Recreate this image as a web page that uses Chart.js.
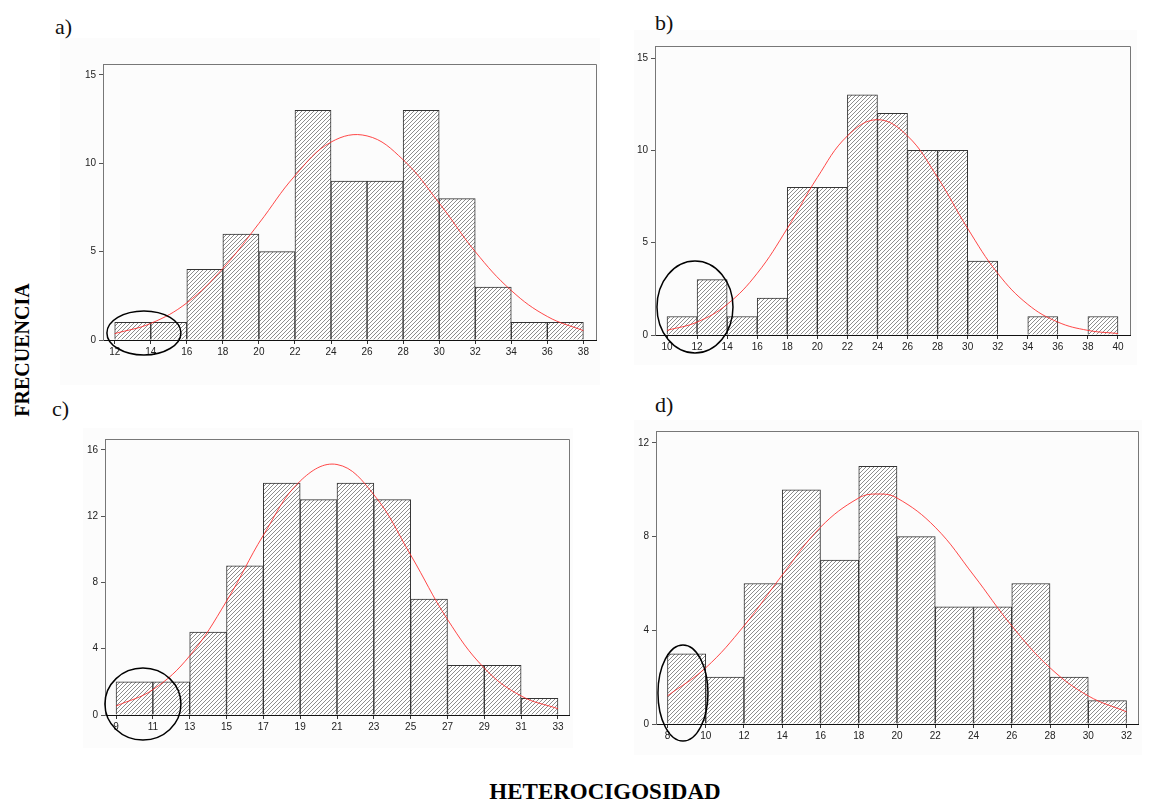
<!DOCTYPE html>
<html>
<head>
<meta charset="utf-8">
<script src="https://cdn.jsdelivr.net/npm/chart.js@4.4.0/dist/chart.umd.min.js"></script>
<style>
  body { margin: 0; background: #fff; width: 1175px; height: 800px; position: relative; overflow: hidden; font-family: "Liberation Serif", "Times New Roman", serif; }
  canvas { position: absolute; }
  .bg { position: absolute; background: #fcfcfc; }
  .lbl { position: absolute; font-size: 22px; color: #111; line-height: 1; }
  #ylab { position: absolute; left: 22px; top: 350px; transform: translate(-50%, -50%) rotate(-90deg); font-weight: bold; font-size: 20px; white-space: nowrap; }
  #xlab { position: absolute; left: 605px; top: 792px; transform: translate(-50%, -50%); font-weight: bold; font-size: 23px; white-space: nowrap; }
</style>
</head>
<body>
<div class="bg" style="left:60px;top:38px;width:540px;height:347px"></div>
<div class="bg" style="left:634px;top:30px;width:503px;height:335px"></div>
<div class="bg" style="left:83px;top:428px;width:490px;height:320px"></div>
<div class="bg" style="left:634px;top:420px;width:508px;height:335px"></div>

<div class="lbl" style="left:55px;top:16px">a)</div>
<div class="lbl" style="left:655px;top:12px">b)</div>
<div class="lbl" style="left:52px;top:398px">c)</div>
<div class="lbl" style="left:655px;top:394px">d)</div>
<div id="ylab">FRECUENCIA</div>
<div id="xlab">HETEROCIGOSIDAD</div>

<canvas id="ca" width="543" height="316" style="left:63px;top:54px"></canvas>
<canvas id="cb" width="525" height="329" style="left:615px;top:36px"></canvas>
<canvas id="cc" width="514" height="316" style="left:65px;top:429px"></canvas>
<canvas id="cd" width="532" height="333" style="left:616px;top:421px"></canvas>

<script>
// a)
var aCenters = [13, 15, 17, 19, 21, 23, 25, 27, 29, 31, 33, 35, 37];
var aCounts = [1, 1, 4, 6, 5, 13, 9, 9, 13, 8, 3, 1, 1];
var aCurveX = [12, 14, 16, 18, 20, 22, 24, 26, 28, 30, 32, 34, 36, 38];
var aCurveY = [0.36, 0.94, 2.1, 4.05, 6.6, 9.3, 11.2, 11.55, 10.2, 7.75, 5.0, 2.8, 1.33, 0.53];
var aXTicks = [12, 14, 16, 18, 20, 22, 24, 26, 28, 30, 32, 34, 36, 38];
var aYTicks = [0, 5, 10, 15];

// b)
var bCenters = [11, 13, 15, 17, 19, 21, 23, 25, 27, 29, 31, 33, 35, 37, 39];
var bCounts = [1, 3, 1, 2, 8, 8, 13, 12, 10, 10, 4, null, 1, null, 1];
var bCurveX = [10, 12, 14, 16, 18, 20, 22, 24, 26, 28, 30, 32, 34, 36, 38, 40];
var bCurveY = [0.25, 0.7, 1.66, 3.34, 5.77, 8.53, 10.78, 11.66, 10.78, 8.53, 5.77, 3.34, 1.66, 0.7, 0.25, 0.08];
var bXTicks = [10, 12, 14, 16, 18, 20, 22, 24, 26, 28, 30, 32, 34, 36, 38, 40];
var bYTicks = [0, 5, 10, 15];

// c)
var cCenters = [10, 12, 14, 16, 18, 20, 22, 24, 26, 28, 30, 32];
var cCounts = [2, 2, 5, 9, 14, 13, 14, 13, 7, 3, 3, 1];
var cCurveX = [9, 11, 13, 15, 17, 19, 21, 23, 25, 27, 29, 31, 33];
var cCurveY = [0.54, 1.53, 3.57, 6.87, 10.85, 14.12, 15.12, 13.3, 9.66, 5.77, 2.83, 1.15, 0.38];
var cXTicks = [9, 11, 13, 15, 17, 19, 21, 23, 25, 27, 29, 31, 33];
var cYTicks = [0, 4, 8, 12, 16];

// d)
var dCenters = [9, 11, 13, 15, 17, 19, 21, 23, 25, 27, 29, 31];
var dCounts = [3, 2, 6, 10, 7, 11, 8, 5, 5, 6, 2, 1];
var dCurveX = [8, 10, 12, 14, 16, 18, 19, 20, 22, 24, 26, 28, 30, 32];
var dCurveY = [1.2, 2.4, 4.19, 6.36, 8.4, 9.65, 9.82, 9.65, 8.4, 6.36, 4.19, 2.4, 1.2, 0.52];
var dXTicks = [8, 10, 12, 14, 16, 18, 20, 22, 24, 26, 28, 30, 32];
var dYTicks = [0, 4, 8, 12];

function hatch() {
  var c = document.createElement("canvas");
  c.width = 4; c.height = 4;
  var g = c.getContext("2d");
  g.fillStyle = "#fff";
  g.fillRect(0, 0, 4, 4);
  g.strokeStyle = "#808080";
  g.lineWidth = 0.9;
  g.beginPath();
  g.moveTo(0, 4); g.lineTo(4, 0);
  g.moveTo(-1, 1); g.lineTo(1, -1);
  g.moveTo(3, 5); g.lineTo(5, 3);
  g.stroke();
  return g.createPattern(c, "repeat");
}
var pat = hatch();

// top and right edges of the frame
var framePlugin = {
  id: "frame",
  afterDatasetsDraw: function (chart) {
    var a = chart.chartArea, ctx = chart.ctx;
    ctx.save();
    ctx.strokeStyle = "#777";
    ctx.lineWidth = 1;
    ctx.beginPath();
    ctx.moveTo(a.left, a.top + 0.5);
    ctx.lineTo(a.right + 0.5, a.top + 0.5);
    ctx.lineTo(a.right + 0.5, a.bottom);
    ctx.stroke();
    ctx.restore();
  }
};

// hand drawn ring around the first bins
var ringPlugin = {
  id: "ring",
  afterDraw: function (chart, args, o) {
    if (!o || o.cx === undefined) return;
    var ctx = chart.ctx;
    var x = chart.scales.x.getPixelForValue(o.cx);
    var y = chart.scales.y.getPixelForValue(o.cy);
    ctx.save();
    ctx.strokeStyle = "#000";
    ctx.lineWidth = 1.5;
    ctx.beginPath();
    ctx.ellipse(x, y, o.rx, o.ry, 0, 0, Math.PI * 2);
    ctx.stroke();
    ctx.restore();
  }
};

function makeHist(id, centers, counts, curveX, curveY, xTicks, yTicks, xmin, xmax, ymax, ring) {
  var bars = centers.map(function (c, i) { return { x: c, y: counts[i] }; });
  var curve = curveX.map(function (x, i) { return { x: x, y: curveY[i] }; });
  return new Chart(document.getElementById(id), {
    type: "bar",
    data: {
      datasets: [
        {
          type: "line",
          data: curve,
          borderColor: "rgba(255,40,40,0.85)",
          borderWidth: 1,
          pointRadius: 0,
          tension: 0.4,
          fill: false,
          order: 0
        },
        {
          type: "bar",
          data: bars,
          backgroundColor: pat,
          borderColor: "#333",
          borderWidth: 1,
          barPercentage: 1,
          categoryPercentage: 1,
          order: 1
        }
      ]
    },
    options: {
      responsive: false,
      animation: false,
      devicePixelRatio: 1,
      layout: { padding: { top: 10, right: 10, left: 0, bottom: 0 } },
      plugins: { legend: { display: false }, tooltip: { enabled: false }, ring: ring },
      scales: {
        x: {
          type: "linear",
          min: xmin,
          max: xmax,
          offset: false,
          grid: { drawOnChartArea: false, offset: false, tickLength: 4, color: "#333" },
          border: { color: "#111", width: 1 },
          ticks: { color: "#222", font: { family: "Liberation Sans", size: 10 }, padding: 2, maxRotation: 0, autoSkip: false },
          afterBuildTicks: function (s) { s.ticks = xTicks.map(function (v) { return { value: v }; }); },
          afterFit: function (s) { s.height = 30; }
        },
        y: {
          min: 0,
          max: ymax,
          grid: { drawOnChartArea: false, tickLength: 4, color: "#555" },
          border: { color: "#777", width: 1 },
          ticks: { color: "#222", font: { family: "Liberation Sans", size: 10 }, padding: 3 },
          afterBuildTicks: function (s) { s.ticks = yTicks.map(function (v) { return { value: v }; }); },
          afterFit: function (s) { s.width = 40; }
        }
      }
    },
    plugins: [framePlugin, ringPlugin]
  });
}

makeHist("ca", aCenters, aCounts, aCurveX, aCurveY, aXTicks, aYTicks, 11.35, 38.7, 15.62, { cx: 13.62, cy: 0.4, rx: 37, ry: 22 });
makeHist("cb", bCenters, bCounts, bCurveX, bCurveY, bXTicks, bYTicks, 9.2, 40.8, 15.65, { cx: 11.86, cy: 1.52, rx: 38, ry: 46 });
makeHist("cc", cCenters, cCounts, cCurveX, cCurveY, cXTicks, cYTicks, 8.4, 33.6, 16.66, { cx: 10.46, cy: 0.66, rx: 38, ry: 36 });
makeHist("cd", dCenters, dCounts, dCurveX, dCurveY, dXTicks, dYTicks, 7.4, 32.6, 12.51, { cx: 8.81, cy: 1.32, rx: 25, ry: 48 });
</script>
</body>
</html>
